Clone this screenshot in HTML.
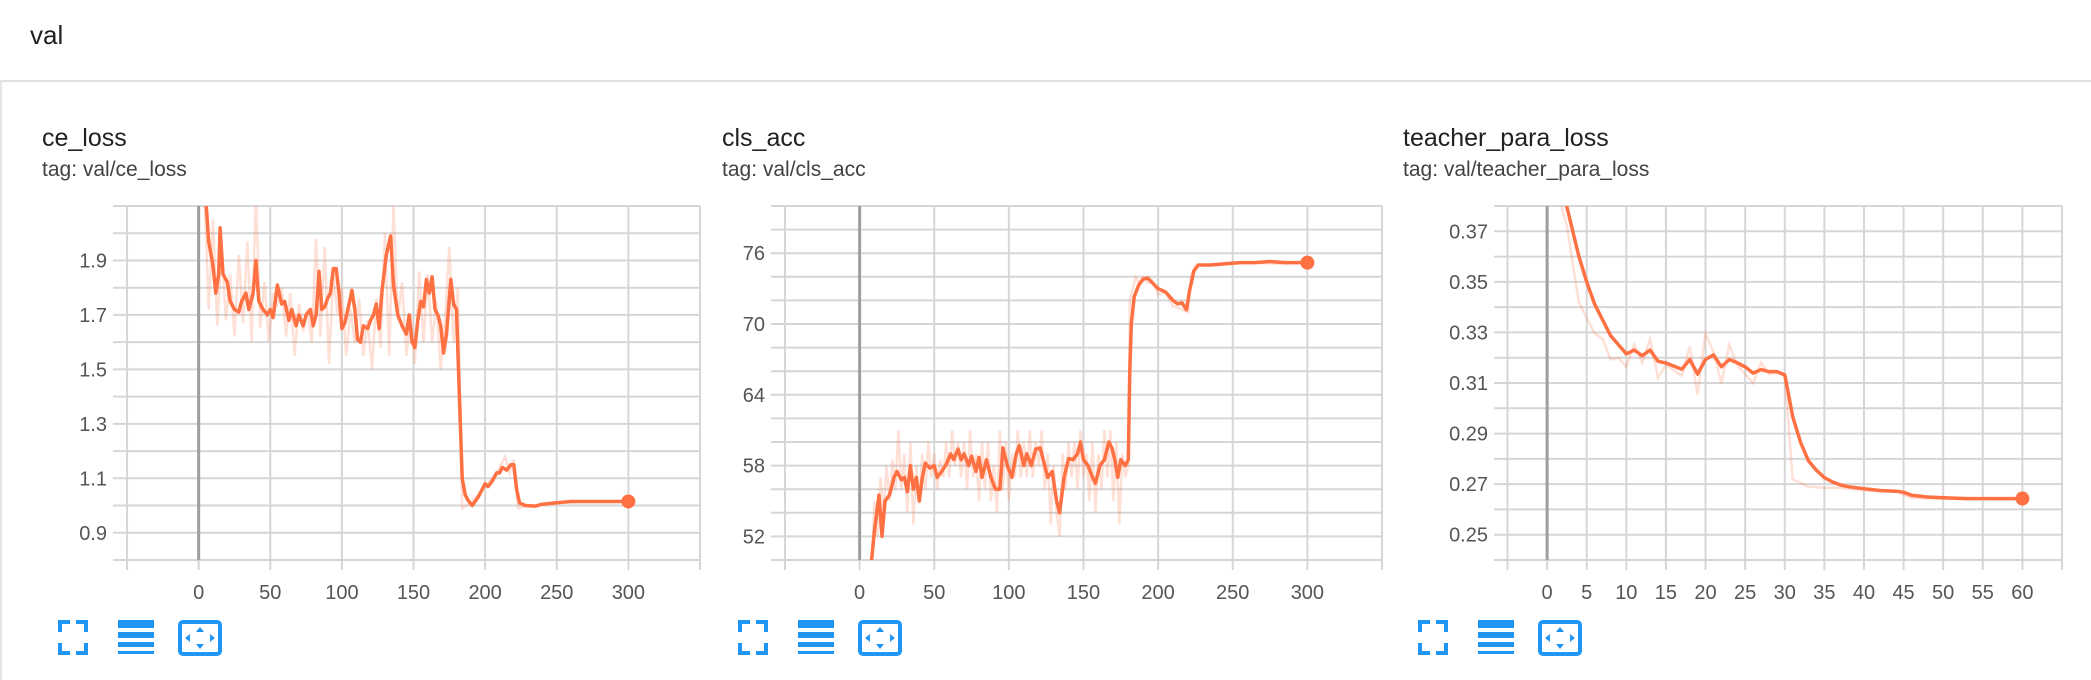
<!DOCTYPE html>
<html><head><meta charset="utf-8"><style>
html,body{margin:0;padding:0;background:#fff;width:2091px;height:680px;overflow:hidden;font-family:"Liberation Sans",sans-serif}
#hdr{position:absolute;left:30px;top:20px;font-size:26px;color:#212121}
#sep{position:absolute;left:0;top:80px;width:2091px;height:2px;background:#e0e0e0}
#lb{position:absolute;left:0;top:80px;width:2px;height:600px;background:#e6e6e6}
.t{position:absolute;font-size:25px;color:#212121}
.g{position:absolute;font-size:21px;color:#424242}
svg{position:absolute;left:0;top:0}
</style></head><body>
<div id="hdr">val</div>
<div id="sep"></div>
<div id="lb"></div>
<div class="t" style="left:42px;top:124px">ce_loss</div>
<div class="g" style="left:42px;top:158px">tag: val/ce_loss</div>
<div class="t" style="left:722px;top:124px">cls_acc</div>
<div class="g" style="left:722px;top:158px">tag: val/cls_acc</div>
<div class="t" style="left:1403px;top:124px">teacher_para_loss</div>
<div class="g" style="left:1403px;top:158px">tag: val/teacher_para_loss</div>
<svg id="s" width="2091" height="680"></svg>
<script>
// ---- ce_loss data ----
const ceSteps=[4,7,10,12,14,15,17,20,22,25,28,30,33,35,38,40,42,45,48,50,52,55,58,60,63,65,68,70,73,75,78,80,82,84,86,88,90,92,94,96,98,100,102,105,107,109,111,113,115,118,120,122,124,126,128,131,134,136,139,142,145,147,149,151,153,155,157,159,161,163,165,167,169,171,173,176,178,180,182,184,186,188,191,195,198,200,202,205,208,210,212,215,218,220,222,224,228,235,240,250,260,270,280,290,300];
const ceSmooth=[2.2,1.97,1.88,1.78,1.85,2.02,1.85,1.82,1.75,1.72,1.71,1.75,1.78,1.72,1.78,1.9,1.75,1.72,1.70,1.72,1.69,1.81,1.74,1.75,1.68,1.72,1.66,1.70,1.66,1.70,1.72,1.66,1.70,1.86,1.72,1.73,1.76,1.78,1.87,1.87,1.78,1.65,1.67,1.74,1.79,1.72,1.61,1.60,1.66,1.65,1.68,1.70,1.74,1.65,1.79,1.92,1.99,1.81,1.70,1.66,1.63,1.70,1.60,1.58,1.68,1.75,1.73,1.83,1.78,1.84,1.72,1.70,1.66,1.56,1.63,1.83,1.74,1.72,1.40,1.10,1.04,1.02,1.00,1.03,1.06,1.08,1.07,1.09,1.12,1.12,1.14,1.13,1.15,1.15,1.06,1.01,1.00,0.998,1.005,1.01,1.015,1.015,1.015,1.015,1.015];
const ceRawSteps=[4,7,10,13,16,19,22,25,28,31,34,37,40,43,46,49,52,55,58,61,64,67,70,73,76,79,82,85,88,91,94,97,100,103,106,109,112,115,118,121,124,127,130,133,136,139,142,145,148,151,154,157,160,163,166,169,172,175,178,181,184,187,190,193,196,199,202,205,208,211,214,217,220,223,226,235,250,270,300];
const ceRaw=[2.15,1.72,2.05,1.66,1.95,1.68,1.85,1.62,1.92,1.67,1.97,1.60,2.15,1.65,1.82,1.60,1.78,1.74,1.80,1.62,1.78,1.55,1.74,1.64,1.72,1.60,1.98,1.62,1.95,1.52,1.85,1.70,1.80,1.55,1.72,1.60,1.76,1.55,1.68,1.50,1.76,1.58,2.00,1.55,2.10,1.68,1.82,1.55,1.70,1.52,1.86,1.60,1.85,1.60,1.75,1.50,1.68,1.95,1.60,1.80,0.99,1.00,1.01,1.03,1.04,1.07,1.08,1.10,1.12,1.15,1.18,1.12,1.17,0.99,0.995,1.0,1.01,1.015,1.015];
const ceYTicks=[0.9,1.1,1.3,1.5,1.7,1.9];
const ceXTicks=[0,50,100,150,200,250,300];
// ---- cls_acc data ----
const accSteps=[8,10,13,15,17,20,23,25,28,30,32,34,36,38,40,42,44,47,50,52,55,58,61,63,66,68,70,73,75,78,80,82,85,88,91,94,96,99,102,105,107,110,112,115,118,121,124,126,129,132,134,137,140,143,146,148,150,153,156,158,161,164,167,169,171,173,175,178,180,181,182,184,187,190,193,196,200,205,210,213,216,219,221,224,227,235,245,255,265,275,285,295,300];
const accSmooth=[50,52.5,55.5,52,55,55.5,57,57.5,56.8,57,55.8,58,56,57,55,57,58.2,57.8,58,57,57.5,58.1,59,58.5,59.4,58.5,59,58,58.8,57.5,58.7,57,58.5,57,56,56,59.5,58,57,59,59.7,58,59,58,59.4,59.5,58,57,57.5,55,54,57,58.6,58.5,59,60,58.5,58,57,56.5,58,58.5,60,59.5,58.5,57,58.5,58,58.5,66,70,72.3,73.3,73.8,73.9,73.5,73,72.7,72,71.7,71.8,71.2,72.8,74.5,75,75,75.1,75.2,75.2,75.3,75.2,75.2,75.2];
const accRawSteps=[8,10,12,14,16,18,20,22,24,26,28,30,32,34,36,38,40,42,44,46,48,50,52,54,56,58,60,62,64,66,68,70,72,74,76,78,80,82,84,86,88,90,92,94,96,98,100,102,104,106,108,110,112,114,116,118,120,122,124,126,128,130,132,134,136,138,140,142,144,146,148,150,152,154,156,158,160,162,164,166,168,170,172,174,176,178,180,181,183,185,187,190,193,196,200,205,210,215,220,222,225,240,260,280,300];
const accRaw=[50,55,52,57,54,58,55,58.5,56,61,56,59,54,60,53,58,55,59,56,60,57,59,56,58.5,57,60,57,61,58,60,57,60,56,61,57,59,55,60,56,60,55,58,54,61,56,60,55,59,57,61,57,60,57,61,57,60,58,61,56,59,53,58,54,52,59,56,60,57,60,56,61,57,59,55,60,54,59,56,61,57,61,55,60,53,59,57,58,72,73,74,73.5,74,73.5,73.7,72.5,72.7,71.5,71.3,71,74,75,75,75.2,75.1,75.2];
const accYTicks=[52,58,64,70,76];
const accXTicks=[0,50,100,150,200,250,300];
// ---- teacher_para_loss data ----
const tpSteps=[1,2.5,4,5,6,8,10,11,12,13,14,15,17,18,19,20,21,22,23,24,25,26,27,28,29,30,31,32,33,34,35,36,37,38,40,42,44,45,46,48,50,53,60];
const tpSmooth=[0.395,0.3796,0.3602,0.350,0.3412,0.3288,0.3215,0.323,0.3208,0.323,0.3186,0.3179,0.3154,0.3193,0.3135,0.3193,0.3211,0.3164,0.3193,0.318,0.3164,0.3139,0.3153,0.3145,0.3145,0.3132,0.2967,0.2865,0.2792,0.2755,0.2726,0.2709,0.2697,0.269,0.2682,0.2675,0.2672,0.2668,0.2656,0.2649,0.2646,0.2643,0.2643];
const tpRawSteps=[1,2.5,4,6,7,8,9,10,11,12,13,14,15,17,18,19,20,21,22,23,24,26,27,28,29,30,31,33,35,37,40,44,46,50,60];
const tpRaw=[0.39,0.372,0.342,0.3296,0.3274,0.3193,0.32,0.3164,0.3252,0.318,0.3274,0.312,0.3172,0.3128,0.3245,0.3055,0.3296,0.3223,0.3099,0.3252,0.3172,0.3099,0.318,0.3135,0.3142,0.3128,0.2719,0.269,0.2685,0.2685,0.2675,0.2672,0.2645,0.2642,0.2640];
const tpYTicks=[0.25,0.27,0.29,0.31,0.33,0.35,0.37];
const tpXTicks=[0,5,10,15,20,25,30,35,40,45,50,55,60];

const NS='http://www.w3.org/2000/svg';
const svg=document.getElementById('s');
function mk(tag,attrs,parent){const e=document.createElementNS(NS,tag);for(const k in attrs)e.setAttribute(k,attrs[k]);(parent||svg).appendChild(e);return e;}
let clipN=0;
function chart(c){
  const g=mk('g',{});
  
  
  const sx=v=>c.L+(v-c.xd[0])/(c.xd[1]-c.xd[0])*(c.R-c.L);
  const sy=v=>c.B-(v-c.yd[0])/(c.yd[1]-c.yd[0])*(c.B-c.T);
  // horizontal grid
  for(let i=0;;i++){const v=c.yd[0]+i*c.yg;if(v>c.yd[1]+1e-9)break;
    const l=mk('line',{x1:c.L-4,x2:c.R,y1:sy(v),y2:sy(v),stroke:'#d6d6d6','stroke-width':2},g);
    
    }
  for(let v=c.xg0;v<=c.xd[1]+1e-9;v+=c.xg){
    const l=mk('line',{x1:sx(v),x2:sx(v),y1:c.T,y2:c.B+10,stroke:'#d6d6d6','stroke-width':2},g);
    
    }
  const ax=mk('line',{x1:sx(0),x2:sx(0),y1:c.T,y2:c.B,stroke:'#9e9e9e','stroke-width':3},g);
  
  
  c.yt.forEach(v=>{const t=mk('text',{x:c.L-10,y:sy(v)+7,'text-anchor':'end','font-size':20,fill:'#555','font-family':'Liberation Sans, sans-serif'},g);t.textContent=c.fmt(v);
    
    });
  c.xt.forEach(v=>{const t=mk('text',{x:sx(v),y:599,'text-anchor':'middle','font-size':20,fill:'#555','font-family':'Liberation Sans, sans-serif'},g);t.textContent=v;
    
    });
  const id='cp'+(clipN++);
  const cp=mk('clipPath',{id:id},g);mk('rect',{x:c.L,y:c.T,width:c.R-c.L,height:c.B-c.T},cp);
  const pts=(xs,ys)=>xs.map((x,i)=>sx(x).toFixed(1)+','+sy(ys[i]).toFixed(1)).join(' ');
  const raw=mk('polyline',{points:pts(c.rx,c.ry),fill:'none',stroke:'rgba(255,112,67,0.22)','stroke-width':2.5,'clip-path':'url(#'+id+')'},g);
  
  
  const sm=mk('polyline',{points:pts(c.sx,c.sy),fill:'none',stroke:'#ff7043','stroke-width':3.5,'stroke-linejoin':'round','clip-path':'url(#'+id+')'},g);
  
  
  const n=c.sx.length-1;
  const d=mk('circle',{cx:sx(c.sx[n]),cy:sy(c.sy[n]),r:7,fill:'#ff7043'},g);
  
  
  // icons
  const ix=c.ix;
  const i1=mk('g',{fill:'none',stroke:'#2196f3','stroke-width':4},g);
  
  
  mk('path',{d:`M${ix+2} 632 v-10 h10 M${ix+18} 622 h10 v10 M${ix+28} 643 v10 h-10 M${ix+12} 653 h-10 v-10`},i1);
  const i2=mk('g',{fill:'#2196f3'},g);
  
  
  mk('rect',{x:ix+60,y:620,width:36,height:8},i2);mk('rect',{x:ix+60,y:632,width:36,height:6},i2);
  mk('rect',{x:ix+60,y:642,width:36,height:5},i2);mk('rect',{x:ix+60,y:651,width:36,height:3},i2);
  const i3=mk('g',{},g);
  
  
  mk('rect',{x:ix+122,y:622,width:40,height:32,rx:3,fill:'none',stroke:'#2196f3','stroke-width':4},i3);
  mk('path',{d:`M${ix+142} 627 l-4 5 h8z M${ix+142} 649 l-4 -5 h8z M${ix+127} 638 l5 -4 v8z M${ix+157} 638 l-5 -4 v8z`,fill:'#2196f3'},i3);
}
chart({name:'ce-loss',L:117,R:700,T:206,B:560,xd:[-57,350],yd:[0.8,2.1],yg:0.1,xg0:-50,xg:50,yt:ceYTicks,xt:ceXTicks,fmt:v=>v.toFixed(1),rx:ceRawSteps,ry:ceRaw,sx:ceSteps,sy:ceSmooth,ix:58});
chart({name:'cls-acc',L:775,R:1382,T:206,B:560,xd:[-56.7,350],yd:[50,80],yg:2,xg0:-50,xg:50,yt:accYTicks,xt:accXTicks,fmt:v=>String(v),rx:accRawSteps,ry:accRaw,sx:accSteps,sy:accSmooth,ix:738});
chart({name:'teacher-para-loss',L:1498,R:2062,T:206,B:560,xd:[-6.2,65],yd:[0.24,0.38],yg:0.01,xg0:-5,xg:5,yt:tpYTicks,xt:tpXTicks,fmt:v=>v.toFixed(2),rx:tpRawSteps,ry:tpRaw,sx:tpSteps,sy:tpSmooth,ix:1418});
</script>
</body></html>
